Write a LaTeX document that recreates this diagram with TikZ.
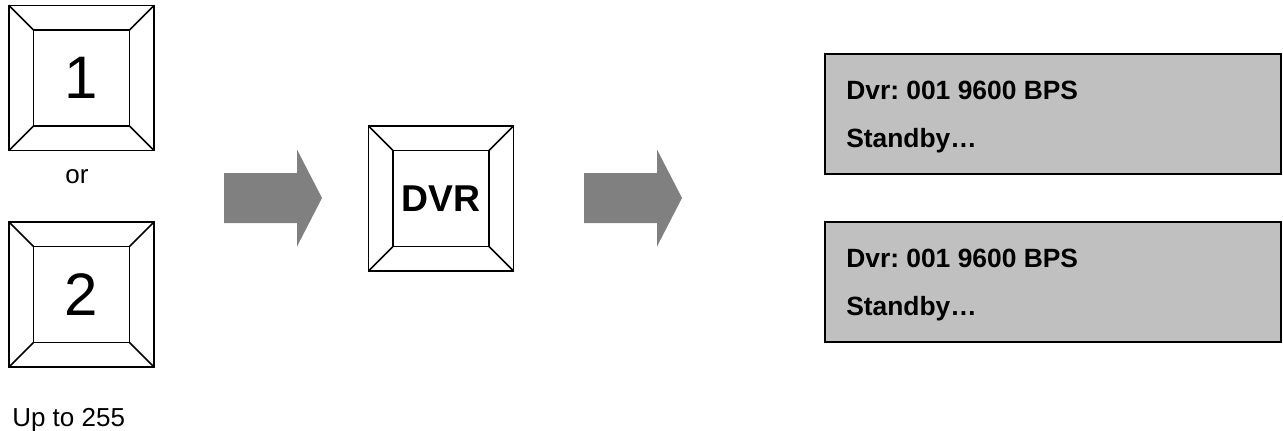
\documentclass[tikz,border=0pt]{standalone}
\usepackage{fontspec}
\setmainfont{Liberation Sans}
\usetikzlibrary{positioning}
\definecolor{lcdgray}{HTML}{C0C0C0}
\definecolor{arrowgray}{HTML}{808080}
\frenchspacing

\tikzset{
  keyrim/.style={draw, line width=1.2pt, minimum size=108.75pt, inner sep=0pt, outer sep=0pt},
  keyface/.style={draw, line width=1.2pt, minimum size=72pt, inner sep=0pt, outer sep=0pt},
  lcd/.style={draw, line width=1.2pt, fill=lcdgray, minimum width=342pt, minimum height=90pt, anchor=north west, inner sep=0pt, outer sep=0pt},
  lcdtext/.style={anchor=base west, inner sep=0pt, font=\fontsize{19.8}{24}\selectfont\bfseries},
  caption/.style={inner sep=0pt, font=\fontsize{19.5}{24}\selectfont},
  bigarrow/.style={fill=arrowgray}
}

\begin{document}
\begin{tikzpicture}[x=0.75pt, y=-0.75pt]
  \useasboundingbox (0,0) rectangle (1283,430);

  % touches 1, 2 et DVR
  \node[keyrim] (k1) at (81.5,78) {};
  \node[keyface, font=\fontsize{45}{54}\selectfont] (k1-face) at (k1) {1};
  \node[keyrim] (k2) at (81.5,294.5) {};
  \node[keyface, font=\fontsize{45}{54}\selectfont] (k2-face) at (k2) {2};
  \node[keyrim] (dvr) at (441,198.5) {};
  \node[keyface, font=\fontsize{28}{34}\selectfont\bfseries] (dvr-face) at (dvr) {DVR};

  % biseaux
  \foreach \k in {k1, k2, dvr}
    \foreach \c in {north west, north east, south west, south east}
      \draw[line width=1.2pt] (\k.\c) -- (\k-face.\c);

  \node[caption, anchor=base] (or) at (77,183) {or};
  \node[caption, anchor=base west] (upto) at (12,426) {Up to 255};

  % fleches
  \foreach \dx in {0, 360}
    \fill[bigarrow] (224+\dx,173) -- (297+\dx,173) -- (297+\dx,149.5) -- (322+\dx,198)
      -- (297+\dx,246.5) -- (297+\dx,223) -- (224+\dx,223) -- cycle;

  % afficheurs
  \node[lcd] (lcd1) at (825,54) {};
  \node[lcdtext] (lcd1-l1) at ([xshift=15.75pt, yshift=-33.75pt]lcd1.north west) {Dvr: 001 9600 BPS};
  \node[lcdtext] (lcd1-l2) at ([xshift=15.75pt, yshift=-69.75pt]lcd1.north west) {Standby…};

  \node[lcd] (lcd2) at (825,222) {};
  \node[lcdtext] (lcd2-l1) at ([xshift=15.75pt, yshift=-33.75pt]lcd2.north west) {Dvr: 001 9600 BPS};
  \node[lcdtext] (lcd2-l2) at ([xshift=15.75pt, yshift=-69.75pt]lcd2.north west) {Standby…};
\end{tikzpicture}
\end{document}
